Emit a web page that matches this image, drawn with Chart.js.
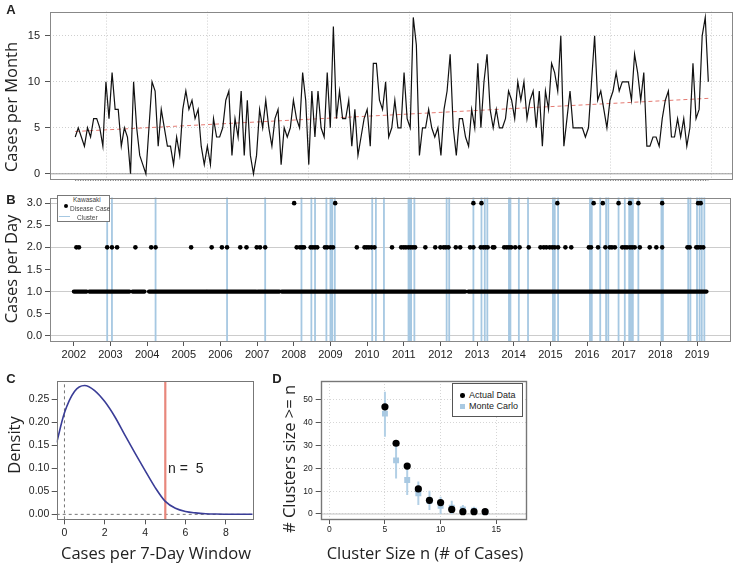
<!DOCTYPE html>
<html>
<head>
<meta charset="utf-8">
<script src="https://cdn.jsdelivr.net/npm/chart.js@4.4.1/dist/chart.umd.min.js"></script>
<style>
  body { margin:0; background:#fff; }
  #wrap { position:relative; width:734px; height:563px; overflow:hidden; font-family:"Liberation Sans", Arial, sans-serif; color:#222; }
  canvas { position:absolute; }
  .t { position:absolute; font-family:"Open Sans", sans-serif; font-size:16.5px; white-space:nowrap; transform:translate(-50%,-50%); }
  .t.v { transform:translate(-50%,-50%) rotate(-90deg); }
  .lab { position:absolute; font-weight:bold; font-size:13px; transform:translate(-50%,-50%); }
  .leg { position:absolute; background:#fff; border:1px solid #777; box-sizing:border-box; }
  .leg span { position:absolute; white-space:nowrap; transform:translateY(-50%); }
</style>
</head>
<body>
<div id="wrap">
  <canvas id="chartA" width="734" height="190" style="left:0;top:0"></canvas>
  <canvas id="chartB" width="734" height="175" style="left:0;top:188px"></canvas>
  <canvas id="chartC" width="262" height="170" style="left:0;top:372px"></canvas>
  <canvas id="chartD" width="272" height="170" style="left:262px;top:372px"></canvas>

  <div class="lab" style="left:11px;top:9px">A</div>
  <div class="lab" style="left:11px;top:199px">B</div>
  <div class="lab" style="left:11px;top:378px">C</div>
  <div class="lab" style="left:277px;top:378px">D</div>

  <div class="t v" style="left:10px;top:107px">Cases per Month</div>
  <div class="t v" style="left:10px;top:269px">Cases per Day</div>
  <div class="t v" style="left:13px;top:445px">Density</div>
  <div class="t" style="left:156px;top:552px">Cases per 7-Day Window</div>
  <div class="t v" style="left:288px;top:459px"># Clusters size &gt;= n</div>
  <div class="t" style="left:425px;top:552px">Cluster Size n (# of Cases)</div>
  <div style="position:absolute;left:168px;top:468px;transform:translateY(-50%);font-size:14px;white-space:pre">n =  5</div>

  <div class="leg" style="left:57px;top:195px;width:53px;height:27px;font-size:6.5px;color:#444">
    <div style="position:absolute;left:6px;top:8px;width:4px;height:4px;border-radius:50%;background:#000"></div>
    <span style="left:15px;top:3px">Kawasaki</span>
    <span style="left:12px;top:12px">Disease Case</span>
    <div style="position:absolute;left:1px;top:20px;width:11px;height:1px;background:#a6c8e2"></div>
    <span style="left:19px;top:21px">Cluster</span>
  </div>

  <div class="leg" style="left:452px;top:383px;width:71px;height:34px;font-size:9px;border-color:#555">
    <div style="position:absolute;left:7px;top:9px;width:4.5px;height:4.5px;border-radius:50%;background:#000"></div>
    <div style="position:absolute;left:7px;top:20px;width:4.5px;height:4.5px;background:#a9c9e2"></div>
    <span style="left:16px;top:11px">Actual Data</span>
    <span style="left:16px;top:22px">Monte Carlo</span>
  </div>
</div>

<script>
// ---- Panel A: monthly case counts, Jan 2002 .. Mar 2019 ----
const casesPerMonth = [
  4,5,4,3,5,4,6,6,5,3,
  10,6,11,7,7,3,5,4,0,10,
  5,2,1,0,5,10,9,3,7,5,
  3,3,1,4,2,7,9,7,8,6,
  7,3,1,3,1,6,4,4,5,8,
  9,2,6,4,9,2,8,2,0,2,
  7,5,8,5,3,6,7,1,5,4,
  5,8,6,5,11,8,1,9,4,9,
  5,4,11,5,16,6,9,6,6,8,
  3,7,2,4,6,7,3,12,12,8,
  7,10,4,5,8,5,5,11,6,5,
  17,14,2,5,5,7,5,4,5,2,
  7,9,13,5,2,6,6,4,3,7,
  5,12,5,10,13,7,5,7,5,5,
  6,9,8,6,10,8,10,6,8,9,
  5,9,3,9,7,12,11,9,15,3,
  6,9,5,5,5,5,4,5,10,15,
  8,9,7,5,8,9,11,9,10,10,
  10,8,13,11,8,11,3,3,4,4,
  3,6,8,9,4,4,6,4,6,3,
  5,12,6,7,15,17,10
];
const trendX = [0, 206];
const trendY = [4.6, 8.2];
const aTicksY = [0, 5, 10, 15];
const aGridX = [10.3, 43.1, 75.9, 108.7, 141.5, 174.3, 207.1];

// ---- Panel B: daily cases (decimal years) ----
const oneRuns = [
  [2002.0, 2002.35], [2002.42, 2003.52], [2003.6, 2003.93], [2004.05, 2005.61],
  [2005.65, 2006.97], [2007.02, 2007.61], [2007.67, 2012.68], [2012.76, 2019.26]
];
const twoCaseDays = [
  2002.07, 2002.14, 2002.91, 2003.04, 2003.18, 2003.68, 2004.11, 2004.23, 2005.2, 2005.76,
  2006.04, 2006.18, 2006.54, 2006.71, 2006.99, 2007.08, 2007.22, 2008.08, 2008.17, 2008.23,
  2008.28, 2008.46, 2008.52, 2008.58, 2008.64, 2008.85, 2008.91, 2009.0, 2009.07, 2009.72,
  2009.93, 2009.99, 2010.05, 2010.12, 2010.2, 2010.68, 2010.93, 2011.0, 2011.06, 2011.13,
  2011.19, 2011.25, 2011.31, 2011.59, 2011.86, 2012.0, 2012.09, 2012.15, 2012.22, 2012.42,
  2012.54, 2012.81, 2012.9, 2013.1, 2013.17, 2013.23, 2013.29, 2013.43, 2013.47, 2013.74,
  2013.81, 2013.87, 2013.93, 2014.04, 2014.16, 2014.41, 2014.73, 2014.82, 2014.89, 2014.98,
  2015.05, 2015.12, 2015.21, 2015.41, 2015.57, 2016.05, 2016.11, 2016.3, 2016.5, 2016.62,
  2016.68, 2016.76, 2016.96, 2017.03, 2017.09, 2017.17, 2017.23, 2017.3, 2017.44, 2017.71,
  2017.89, 2018.05, 2018.74, 2018.8, 2018.98, 2019.03, 2019.1, 2019.17
];
const threeCaseDays = [
  2008.01, 2009.13, 2012.9, 2013.12, 2015.19, 2016.18, 2016.43, 2016.86, 2017.17, 2017.4,
  2018.05, 2019.03, 2019.1
];
const clusterDates = [
  2002.91, 2003.04, 2004.23, 2006.18, 2007.22, 2008.21, 2008.48, 2008.58, 2008.89, 2009.0,
  2009.05, 2009.12, 2010.14, 2010.24, 2010.46, 2011.13, 2011.17, 2011.2, 2011.29, 2012.17,
  2012.24, 2012.9, 2013.12, 2013.21, 2013.28, 2013.87, 2013.91, 2014.14, 2014.39, 2015.07,
  2015.12, 2015.21, 2016.08, 2016.13, 2016.36, 2016.52, 2016.58, 2016.86, 2017.03, 2017.15,
  2017.2, 2017.25, 2017.4, 2018.03, 2018.07, 2018.76, 2018.82, 2019.0, 2019.07, 2019.13, 2019.2
];
const yearTicks = [2002,2003,2004,2005,2006,2007,2008,2009,2010,2011,2012,2013,2014,2015,2016,2017,2018,2019];
const bTicksY = [0, 0.5, 1, 1.5, 2, 2.5, 3];

// ---- Panel C: density of cases per 7-day window ----
const densX = [-0.38, 0, 0.5, 1, 1.5, 2, 2.5, 3, 3.5, 4, 4.5, 5, 5.5, 6, 6.5, 7, 7.5, 8, 8.5, 9, 9.33];
const densY = [0.156, 0.22, 0.267, 0.28, 0.269, 0.245, 0.212, 0.172, 0.133, 0.095, 0.058, 0.028, 0.013, 0.006, 0.003, 0.0013, 0.0005, 0.0002, 0.0001, 0, 0];
const threshold = 5;
const cTicksX = [0, 2, 4, 6, 8];
const cTicksY = [0, 0.05, 0.1, 0.15, 0.2, 0.25];

// ---- Panel D: clusters of size >= n ----
const clusterSizeN = [5, 6, 7, 8, 9, 10, 11, 12, 13, 14];
const actualCount = [47, 31, 21, 11, 6, 5, 2, 1, 1, 1];
const mcMean = [44, 23.5, 14.9, 9.1, 5.8, 3.6, 2.8, 2.0, 1.4, 0.9];
const mcLow  = [33.9, 15.6, 8.3, 3.9, 1.8, 0, 0, 0, 0, 0];
const mcHigh = [53.6, 30.3, 20.7, 14.2, 10.2, 7.6, 5.8, 3.9, 3.2, 1.8];
const dTicksX = [0, 5, 10, 15];
const dTicksY = [0, 10, 20, 30, 40, 50];

// box around the plot region, like R's box()
const boxPlugin = {
  id: "box",
  afterDraw(chart, args, opts) {
    const a = chart.chartArea, c = chart.ctx;
    c.save();
    c.strokeStyle = opts.color || "#777";
    c.lineWidth = opts.width || 1;
    c.strokeRect(Math.round(a.left) + 0.5, Math.round(a.top) + 0.5, Math.round(a.right - a.left), Math.round(a.bottom - a.top));
    c.restore();
  }
};
Chart.register(boxPlugin);

const tickFont = { family: "Liberation Sans", size: 11 };
const fixTicks = arr => (s => { s.ticks = arr.map(v => ({ value: v })); });
const vSegments = (xs, lo, hi) => xs.flatMap(x => [{x, y: lo}, {x, y: hi}, {x, y: null}]);
const baseOpts = {
  responsive: false,
  animation: false,
  events: [],
};

// ---------- A ----------
new Chart(document.getElementById("chartA"), {
  type: "line",
  data: { datasets: [
    { data: casesPerMonth.map((v, i) => ({x: i, y: v})), borderColor: "#111", borderWidth: 1.2, pointRadius: 0 },
    { data: trendX.map((x, i) => ({x, y: trendY[i]})), borderColor: "#e47a72", borderWidth: 1, borderDash: [4, 3], pointRadius: 0 },
    { data: [{x: -8.2, y: 0}, {x: 213.7, y: 0}], borderColor: "#9a9a9a", borderWidth: 1, pointRadius: 0 },
    { data: [{x: 0, y: -0.72}, {x: 206, y: -0.72}], borderColor: "#666", borderWidth: 1, borderDash: [1, 1.5], pointRadius: 0, clip: false }
  ]},
  options: { ...baseOpts,
    layout: { padding: { left: 0, top: 4, right: 2, bottom: 7 } },
    plugins: { legend: { display: false }, tooltip: { enabled: false }, box: { color: "#888" } },
    scales: {
      x: { type: "linear", min: -8.2, max: 213.7, afterBuildTicks: fixTicks(aGridX),
           ticks: { display: false }, grid: { color: "#cfcfcf", drawTicks: false },
           border: { display: false, dash: [1, 2] }, afterFit: s => { s.height = 0; } },
      y: { min: -0.5, max: 17.63, afterBuildTicks: fixTicks(aTicksY),
           ticks: { font: tickFont, color: "#222", padding: 5 },
           grid: { color: "#cfcfcf", tickColor: "#555", tickLength: 5 },
           border: { display: false, dash: [1, 2] }, afterFit: s => { s.width = 50; } }
    }
  }
});

// ---------- B ----------
new Chart(document.getElementById("chartB"), {
  type: "line",
  data: { datasets: [
    { data: threeCaseDays.map(x => ({x, y: 3})), showLine: false, pointRadius: 2.3, pointBackgroundColor: "#000", pointBorderWidth: 0 },
    { data: twoCaseDays.map(x => ({x, y: 2})), showLine: false, pointRadius: 2.3, pointBackgroundColor: "#000", pointBorderWidth: 0 },
    { data: oneRuns.flatMap(([a, b]) => [{x: a, y: 1}, {x: b, y: 1}, {x: b, y: null}]),
      borderColor: "#000", borderWidth: 4.2, borderCapStyle: "round", pointRadius: 0, spanGaps: false },
    { data: vSegments(clusterDates, -0.2, 3.2), borderColor: "#a6c8e2", borderWidth: 1.8, pointRadius: 0, spanGaps: false }
  ]},
  options: { ...baseOpts,
    layout: { padding: { left: 0, top: 6, right: 2, bottom: 0 } },
    plugins: { legend: { display: false }, tooltip: { enabled: false }, box: { color: "#888" } },
    scales: {
      x: { type: "linear", min: 2001.35, max: 2019.9, afterBuildTicks: fixTicks(yearTicks),
           ticks: { font: tickFont, color: "#222", padding: 2, maxRotation: 0, autoSkip: false, callback: v => String(v) },
           grid: { drawOnChartArea: false, tickColor: "#555", tickLength: 5 },
           border: { display: false }, afterFit: s => { s.height = 22; } },
      y: { min: -0.117, max: 3.125, afterBuildTicks: fixTicks(bTicksY),
           ticks: { font: tickFont, color: "#222", padding: 3, callback: v => v.toFixed(1) },
           grid: { color: ctx => Number.isInteger(ctx.tick.value) ? "#cccccc" : "rgba(0,0,0,0)", tickColor: "#555", tickLength: 5 },
           border: { display: false }, afterFit: s => { s.width = 50; } }
    }
  }
});

// ---------- C ----------
new Chart(document.getElementById("chartC"), {
  type: "line",
  data: { datasets: [
    { data: densX.map((x, i) => ({x, y: densY[i]})), borderColor: "#3a3d97", borderWidth: 1.6, pointRadius: 0, cubicInterpolationMode: "monotone" },
    { data: [{x: threshold, y: -0.011}, {x: threshold, y: 0.29}], borderColor: "#e8877c", borderWidth: 2.2, pointRadius: 0 },
    { data: [{x: 0, y: -0.011}, {x: 0, y: 0.29}], borderColor: "#555", borderWidth: 0.8, borderDash: [3, 3], pointRadius: 0 },
    { data: [{x: -0.38, y: 0}, {x: 9.33, y: 0}], borderColor: "#555", borderWidth: 0.8, borderDash: [3, 3], pointRadius: 0 }
  ]},
  options: { ...baseOpts,
    layout: { padding: { left: 0, top: 9, right: 9.3, bottom: 0 } },
    plugins: { legend: { display: false }, tooltip: { enabled: false }, box: { color: "#777" } },
    scales: {
      x: { type: "linear", min: -0.38, max: 9.33, afterBuildTicks: fixTicks(cTicksX),
           ticks: { font: { family: "Liberation Sans", size: 10.5 }, color: "#222", padding: 3, maxRotation: 0 },
           grid: { drawOnChartArea: false, tickColor: "#555", tickLength: 5 },
           border: { display: false }, afterFit: s => { s.height = 22.7; } },
      y: { min: -0.0109, max: 0.2898, afterBuildTicks: fixTicks(cTicksY),
           ticks: { font: { family: "Liberation Sans", size: 10.5 }, color: "#222", padding: 2.4, callback: v => v.toFixed(2) },
           grid: { drawOnChartArea: false, tickColor: "#555", tickLength: 5 },
           border: { display: false }, afterFit: s => { s.width = 56.7; } }
    }
  }
});

// ---------- D ----------
new Chart(document.getElementById("chartD"), {
  type: "line",
  data: { datasets: [
    { data: clusterSizeN.map((x, i) => ({x, y: actualCount[i]})), showLine: false, pointRadius: 3.6, pointBackgroundColor: "#000", pointBorderWidth: 0 },
    { data: clusterSizeN.map((x, i) => ({x, y: mcMean[i]})), showLine: false, pointStyle: "rect", pointRadius: 4.2, pointBackgroundColor: "#a9c9e2", pointBorderWidth: 0 },
    { data: clusterSizeN.flatMap((x, i) => [{x, y: mcLow[i]}, {x, y: mcHigh[i]}, {x, y: null}]),
      borderColor: "#b3d0e6", borderWidth: 2, pointRadius: 0, spanGaps: false },
    { data: [{x: -0.77, y: 0}, {x: 17.67, y: 0}], borderColor: "#c4c4c4", borderWidth: 1.2, pointRadius: 0 }
  ]},
  options: { ...baseOpts,
    layout: { padding: { left: 28.7, top: 9, right: 8, bottom: 0 } },
    plugins: { legend: { display: false }, tooltip: { enabled: false }, box: { color: "#777", width: 1.4 } },
    scales: {
      x: { type: "linear", min: -0.77, max: 17.67, afterBuildTicks: fixTicks(dTicksX),
           ticks: { font: { family: "Liberation Sans", size: 8.5 }, color: "#222", padding: 1, maxRotation: 0 },
           grid: { color: "#d6d6d6", tickColor: "#555", tickLength: 5 },
           border: { display: false, dash: [1, 2] }, afterFit: s => { s.height = 23; } },
      y: { min: -2.2, max: 58.3, afterBuildTicks: fixTicks(dTicksY),
           ticks: { font: { family: "Liberation Sans", size: 8.5 }, color: "#222", padding: 3 },
           grid: { color: "#d6d6d6", tickColor: "#555", tickLength: 5 },
           border: { display: false, dash: [1, 2] }, afterFit: s => { s.width = 30; } }
    }
  }
});
</script>
</body>
</html>
